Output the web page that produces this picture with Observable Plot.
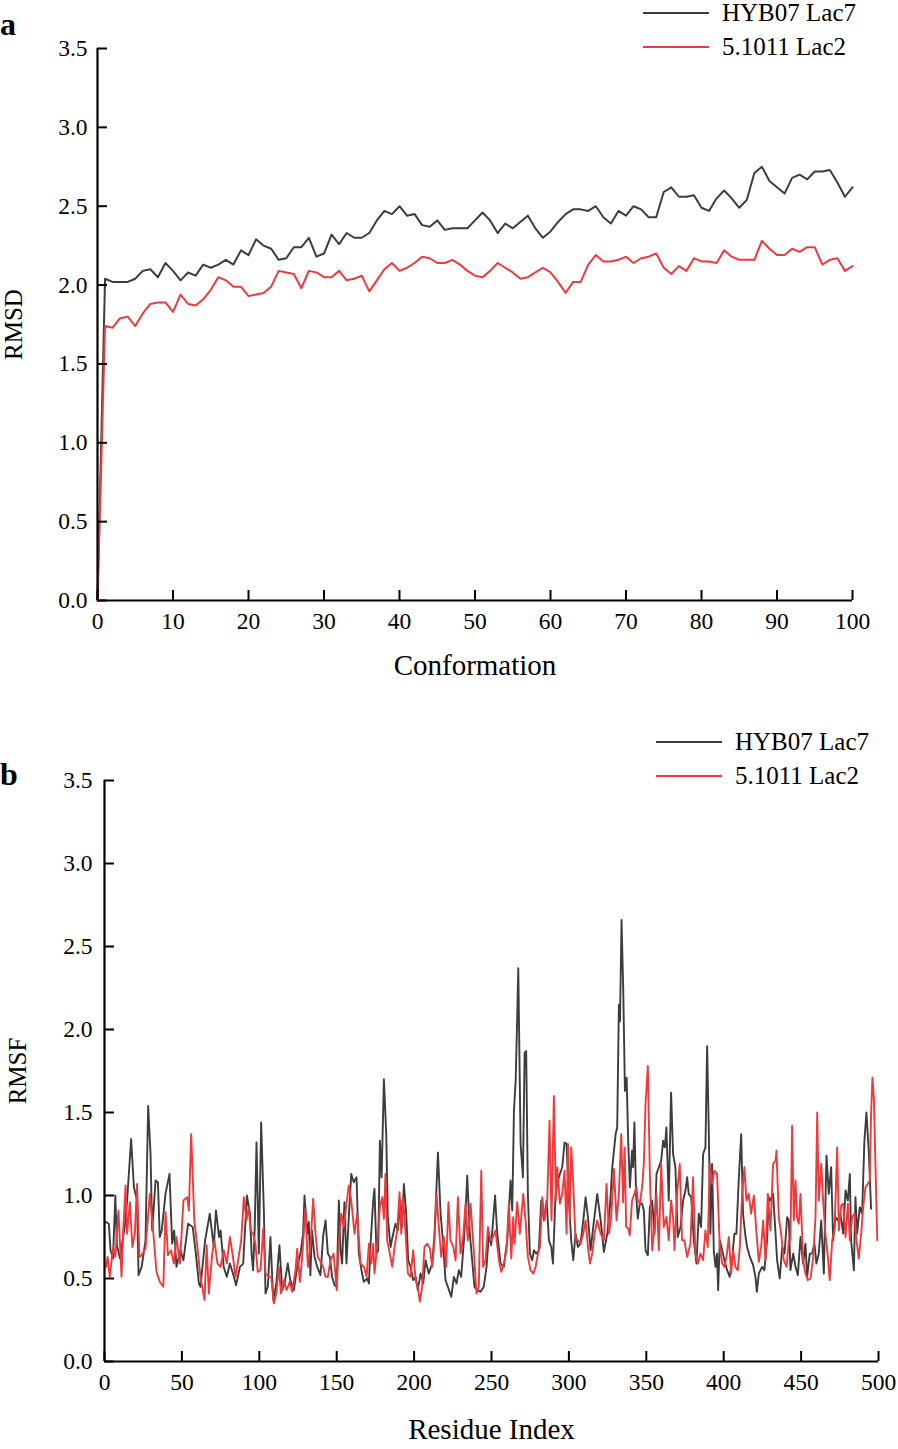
<!DOCTYPE html>
<html><head><meta charset="utf-8">
<script src="https://cdn.jsdelivr.net/npm/d3@7"></script>
<script src="https://cdn.jsdelivr.net/npm/@observablehq/plot@0.6"></script>
<style>
body{margin:0;background:#fff;}
#wrap{position:relative;width:898px;height:1449px;font-family:"Liberation Serif","Times New Roman",serif;overflow:hidden;}
.panel{position:absolute;left:0;}
.letter{position:absolute;font-weight:bold;font-size:32px;line-height:1;color:#000;}
.legend{position:absolute;font-size:25px;color:#000;}
.legend .row{display:flex;align-items:center;height:34px;white-space:nowrap;}
.legend .sw{width:66px;height:2px;margin-right:13px;}
</style></head>
<body><div id="wrap"></div>
<script>
// ---------- Panel a: RMSD ----------
const conformation = [0,1,2,3,4,5,6,7,8,9,10,11,12,13,14,15,16,17,18,19,20,21,22,23,24,25,26,27,28,29,30,31,32,33,34,35,36,37,38,39,40,41,42,43,44,45,46,47,48,49,50,51,52,53,54,55,56,57,58,59,60,61,62,63,64,65,66,67,68,69,70,71,72,73,74,75,76,77,78,79,80,81,82,83,84,85,86,87,88,89,90,91,92,93,94,95,96,97,98,99,100];
const rmsdHYB = [0.00,2.04,2.02,2.02,2.02,2.04,2.09,2.10,2.05,2.14,2.09,2.03,2.08,2.06,2.13,2.11,2.13,2.16,2.13,2.22,2.19,2.29,2.25,2.23,2.16,2.17,2.24,2.24,2.30,2.18,2.20,2.32,2.26,2.33,2.30,2.30,2.33,2.41,2.47,2.45,2.50,2.44,2.45,2.38,2.37,2.41,2.35,2.36,2.36,2.36,2.41,2.46,2.41,2.33,2.39,2.36,2.40,2.44,2.36,2.30,2.34,2.40,2.45,2.48,2.48,2.47,2.50,2.43,2.39,2.47,2.44,2.50,2.48,2.43,2.43,2.59,2.62,2.56,2.56,2.57,2.49,2.47,2.55,2.60,2.55,2.49,2.54,2.71,2.75,2.66,2.62,2.58,2.68,2.70,2.67,2.72,2.72,2.73,2.65,2.56,2.62];
const rmsd5101 = [0.00,1.74,1.73,1.79,1.80,1.74,1.82,1.88,1.89,1.89,1.83,1.94,1.88,1.87,1.91,1.97,2.05,2.03,1.99,1.99,1.93,1.94,1.95,1.99,2.09,2.08,2.07,1.98,2.09,2.08,2.05,2.05,2.09,2.03,2.04,2.06,1.96,2.03,2.10,2.14,2.09,2.11,2.14,2.18,2.17,2.14,2.14,2.16,2.13,2.09,2.06,2.05,2.09,2.14,2.11,2.08,2.04,2.05,2.08,2.11,2.08,2.02,1.95,2.02,2.02,2.13,2.19,2.15,2.15,2.16,2.18,2.14,2.17,2.18,2.20,2.11,2.07,2.12,2.09,2.17,2.15,2.15,2.14,2.22,2.18,2.16,2.16,2.16,2.28,2.23,2.19,2.19,2.23,2.21,2.24,2.24,2.13,2.16,2.17,2.09,2.12];

// ---------- Panel b: RMSF ----------
const residueHYB = [1,2.8,3.9,5.5,7,8,10,12,13,14.6,17.2,19,21,22,24,26.5,28.2,29.7,30.8,33,34.5,35.7,37,39.4,42,43.7,45,46.5,49,51,54,57,59,61,62,65,68,70.6,72,74,75,77,79,81,83,85,87.5,89.6,92,94,95,96,97,98.2,99.7,101.2,103,104,105.5,107.2,109,111,113,114.8,116.3,118.4,120,122.3,124.5,126.6,128.3,129.2,131,132,133,134,135.7,137.4,139.5,141.3,142.8,144.3,145.6,147,148.6,150,151.4,152.5,153.5,155,156.3,157.8,159.4,161,162.8,164.3,166,167.5,169.7,170.8,171.9,173.6,174.4,175.7,176.8,177.9,179,180.5,182,183,184.8,186.5,188,189.5,191.2,192.3,193.4,194.9,196.2,197.7,199.4,201,202.4,204.2,205.9,207.4,209.5,211.7,213.2,215.4,217.1,218.6,220.3,221.8,224,225.7,227.4,228.9,230.4,232.2,233.2,234.3,236,237.5,239,240.8,243,245,246.8,248.3,249.8,252.3,253.7,255.9,258,259,260.2,262.3,263.4,264.5,265.6,266.6,267.3,268.8,270.3,271.4,272.4,273.5,274.8,276.3,277.4,278.9,280.6,282.1,283.9,285.6,287.1,288.6,289.7,291.4,293.5,295.7,297.2,298.5,300,301.5,302.8,304.3,305.8,307.5,309.3,310.8,312.3,314,315.7,318.3,320.5,322.6,324.8,326.5,328,330.2,331.2,332.3,333,334,335.1,336.2,337.3,338.3,339.4,340.8,341.5,342.3,343.4,344.5,345.8,347.3,348.4,349.5,351,352.3,353.8,355.3,356.6,358.1,359.6,360.9,362,363,364.5,366,367.3,368.8,370.3,372.1,373.8,375.3,376.4,377.4,379,380.7,382.4,383.9,385.4,386.7,388.2,389.3,390.4,391.4,392.5,393.6,394.7,395.7,396.4,397.5,399,400.5,402.2,403.9,405.4,406.9,408.2,409.7,411.3,412.5,414.1,415.1,416.9,419,420.5,421.4,422.7,424.8,426.3,428,429.1,430.2,431.9,433.5,434.5,436.2,437.8,439.3,441,442.1,443.1,444.9,446.4,447.9,449.6,451.3,452.8,453.9,455.6,457.1,458.6,459.9,461.4,463,464.7,466.4,467.9,469.4,470.7,472.2,473.7,475.4,477.2,478.7,480.2,481.5,482.3,484.1,485.1,486.2,487.9,489.4,490.9,492.2,493.7,495.2];
const rmsfHYB = [0.84,0.83,0.67,0.62,1.00,0.70,0.62,0.75,0.80,0.97,1.34,1.05,0.97,0.52,0.57,0.73,1.54,1.26,0.79,1.09,1.08,0.75,0.79,1.01,1.13,0.71,0.79,0.57,0.67,0.61,0.83,0.81,0.65,0.47,0.45,0.73,0.89,0.69,0.91,0.75,0.79,0.57,0.51,0.59,0.53,0.46,0.57,0.59,1.00,0.89,0.65,0.55,0.79,1.32,0.65,1.44,0.89,0.41,0.45,0.75,0.37,0.47,0.70,0.43,0.47,0.59,0.49,0.43,0.57,0.65,0.77,1.00,0.77,0.84,0.52,0.79,0.63,0.57,0.52,0.76,0.85,0.65,0.63,0.51,0.46,0.45,0.97,0.67,0.59,0.96,0.59,0.87,1.13,1.08,1.11,0.65,0.55,0.48,0.50,0.47,0.71,0.97,1.04,0.65,0.67,1.33,1.11,1.70,1.37,0.87,0.69,0.77,0.83,0.79,0.97,0.81,1.07,0.89,0.61,0.57,0.49,0.51,0.43,0.53,0.47,0.61,0.53,0.59,0.77,1.26,0.89,0.73,0.49,0.45,0.39,0.51,0.47,0.55,0.51,0.73,0.89,1.12,0.77,0.61,0.45,0.43,0.42,0.45,0.57,0.77,0.70,1.00,0.77,0.59,0.57,0.65,0.73,1.09,0.91,1.51,1.69,2.07,2.37,1.31,1.11,1.86,1.87,1.01,0.65,0.61,0.67,0.65,0.67,0.97,0.85,0.97,0.73,0.69,0.59,1.01,1.11,1.17,1.32,1.31,0.97,0.73,0.61,0.77,0.69,0.71,0.85,0.99,0.87,0.67,0.81,1.01,0.85,0.66,0.77,0.93,1.17,1.37,1.41,2.15,2.05,2.66,2.24,1.63,1.71,1.33,1.05,1.27,1.17,1.44,1.01,0.86,0.95,0.95,0.91,0.67,0.64,0.93,0.97,0.77,1.13,1.17,1.21,1.33,1.29,1.41,0.97,1.62,1.25,1.17,0.75,0.81,0.97,1.03,1.11,1.01,0.99,0.73,0.59,0.89,0.81,1.25,1.29,1.90,1.37,0.77,1.19,0.67,0.57,0.65,0.43,0.73,0.67,0.61,0.55,0.51,0.61,0.77,0.77,1.09,1.37,0.89,0.75,0.69,0.63,0.58,0.51,0.42,0.53,0.57,0.55,0.73,0.99,0.97,1.01,0.77,0.61,0.50,0.69,0.65,0.87,0.85,0.55,0.65,0.57,0.52,0.75,0.59,0.71,0.51,0.65,0.65,0.71,0.59,0.65,0.85,0.53,1.24,1.01,1.17,0.73,0.87,0.85,0.89,0.77,1.03,0.97,1.13,0.73,0.55,0.99,0.77,0.93,0.89,1.33,1.50,1.27,0.92];
const residue5101 = [1,2,3.4,5.6,7,9,11,12,13.6,14.6,16.4,18,19.6,21,22.6,24,26.5,29.3,31.4,33.6,35.7,38,39.4,41,43,44.8,46.5,48.7,51,53.4,54.5,56,58,60,62,64.6,66,67.4,69.6,71,73,75,77,79,81,83,84.6,86,88.3,90,91.7,93.2,94.3,96,97.5,99,100.8,102.5,104,106.2,107.7,109.4,111,112.6,114,115.9,117.6,119.7,121.2,123.4,124.5,126.2,127.7,129.8,131.4,133,134.8,136.3,137.8,139,141.3,142.8,144.3,146,148,150,151.4,153,154.6,156.3,157.8,159.4,161.5,163.2,165.4,167.6,169.3,170.8,172.3,173.6,174.4,176.2,177.9,179.4,180.5,181.5,182.6,184.3,185.9,187.4,189.1,190.6,191.7,193,194.5,196,197.7,199.4,201,202.4,203.7,205.2,206.7,208.5,210.2,211.7,213.2,214.5,216,217.5,219.2,220.7,222.2,223.5,225.3,226.8,228.3,230,231.7,233.2,234.7,236.5,237.8,239,240.3,241.8,243.4,244.6,246.2,247.7,249.4,251.1,252.6,254.8,256.3,258,259.7,261.2,262.8,264,264.9,266.6,268.3,270.5,272,273.5,275.2,277,278.5,280,281.3,282.8,284.3,286,287.5,288.8,290.3,291.6,292.5,294.2,295.7,297.2,298.5,299.4,300.6,301.5,302.8,304.3,305.8,307.5,309.3,310.8,312.3,313.6,315.1,316.6,318.3,320.5,322.6,324.3,325.9,327.3,329.1,330.8,332.3,333.8,335,336,337,338.5,339.3,340.8,342.3,343.6,344.5,345.8,347.3,348.4,349.5,351,352.3,353.8,355.3,356.6,358.1,359.6,361.3,363,364.5,366,367.3,368.2,369.9,371.6,373.1,374.6,376.4,378.5,380.2,381.7,383.3,385,386.7,388.2,389.7,391,392.5,394,395.7,397.5,399,400.5,401.8,403.3,404.8,406.1,407.6,409.1,410.4,411.9,413.4,414.7,416.2,417.7,419.5,421.2,422.7,424.2,425.5,427,428.5,430.2,431.9,433.5,434.1,435.6,437.1,438.8,440.6,442.1,443.1,444.2,445.3,446.4,447.4,448.5,449.6,451.3,452.8,454.3,456.1,457.8,459.3,460.4,461.4,463,464.2,465.7,467.3,468.5,470.1,471.6,473.3,474.4,475.9,477.2,478.7,480.2,481.5,483,484.5,485.8,487.3,488.8,490.1,491.6,493.1,494.4,495.2,496.1,497,499.2];
const rmsf5101 = [0.57,0.63,0.51,0.69,0.63,0.91,0.51,0.77,1.06,0.77,0.96,0.69,0.77,1.07,0.63,0.64,0.68,1.01,0.79,0.54,0.48,0.45,0.90,0.64,0.67,0.59,0.75,0.59,0.97,0.99,0.91,1.37,0.85,0.69,0.51,0.37,0.70,0.41,0.65,0.73,0.59,0.57,0.67,0.59,0.75,0.63,0.51,0.59,0.73,0.99,0.85,0.93,0.79,0.77,0.71,0.54,0.55,0.80,0.53,0.51,0.51,0.35,0.41,0.57,0.41,0.49,0.43,0.48,0.42,0.55,0.68,0.48,0.63,0.92,0.57,0.69,0.98,0.77,0.63,0.61,0.57,0.51,0.51,0.61,0.65,0.43,0.71,0.89,0.81,0.95,1.06,0.97,0.77,0.89,0.59,0.57,0.51,0.71,0.59,0.71,0.53,0.71,0.93,0.99,0.86,1.13,0.73,0.65,0.57,0.69,0.79,1.02,0.77,0.98,0.77,0.53,0.51,0.67,0.49,0.45,0.36,0.45,0.69,0.71,0.68,0.57,0.73,1.01,0.81,0.63,0.75,0.57,0.96,0.73,0.69,0.61,0.99,0.65,0.75,0.95,0.73,0.95,0.77,0.61,0.41,0.45,1.15,0.57,0.61,0.81,0.73,0.75,0.79,0.61,0.54,0.59,0.67,0.95,0.62,0.87,0.71,0.96,0.77,1.01,0.85,0.63,0.55,0.53,0.57,0.65,0.69,0.99,0.85,0.97,1.45,0.85,1.60,0.97,1.17,0.95,1.01,1.15,0.77,1.31,0.85,1.29,1.07,0.73,0.73,0.71,0.77,0.85,0.69,0.59,0.65,0.77,0.85,0.77,0.73,1.07,0.77,0.87,1.16,0.85,1.01,1.37,0.96,1.29,0.81,0.80,0.76,0.97,1.01,1.05,0.97,0.95,1.05,1.19,1.55,1.78,1.13,0.67,0.81,1.01,0.67,1.19,0.81,0.87,0.73,0.97,0.87,0.67,1.01,1.19,0.73,0.73,0.63,0.71,1.11,0.65,0.59,0.65,0.61,0.79,0.69,1.19,1.07,1.15,1.13,0.69,0.59,0.57,0.63,0.75,0.53,0.67,0.57,0.55,0.69,1.01,1.17,0.97,1.01,0.89,1.00,0.77,0.60,0.69,0.85,0.61,1.01,0.79,1.19,1.21,1.27,0.87,0.77,0.61,0.57,0.73,0.73,1.42,0.85,1.09,0.87,0.83,1.01,0.61,0.53,0.49,0.50,0.63,0.87,1.50,0.97,1.19,0.97,0.77,0.63,0.49,0.73,0.79,1.29,0.79,0.94,0.95,0.75,0.95,0.73,0.87,0.89,0.73,0.62,0.77,0.93,1.05,1.07,1.09,1.49,1.71,1.59,0.73];

// ---------- axis ticks / labels ----------
const yTicks = [0, 0.5, 1, 1.5, 2, 2.5, 3, 3.5];
const xTicksA = [0,10,20,30,40,50,60,70,80,90,100];
const xTicksB = [0,50,100,150,200,250,300,350,400,450,500];
const seriesNames = ["HYB07 Lac7", "5.1011 Lac2"];
const seriesColors = ["#3d3d3d", "#ee3a3c"];

const tableA = conformation.map((c, i) => ({c, hyb: rmsdHYB[i], lac: rmsd5101[i]}));
const tableB1 = residueHYB.map((r, i) => ({r, v: rmsfHYB[i]}));
const tableB2 = residue5101.map((r, i) => ({r, v: rmsf5101[i]}));

const FONT = '"Liberation Serif","Times New Roman",serif';

function makePanel({height, mt, mb, ml, mr, xDomain, xTicks, xLabel, yLabel, lines, xLabelOffset, yLabelOffset, yPad}) {
  const innerH = height - mt - mb;
  const innerW = 898 - ml - mr;
  const svg = Plot.plot({
    width: 898, height,
    marginTop: mt, marginBottom: mb, marginLeft: ml, marginRight: mr,
    x: {domain: xDomain},
    y: {domain: [0, 3.5]},
    style: {fontFamily: FONT, fontSize: "23px", color: "#000", background: "transparent", overflow: "visible"},
    marks: [
      ...lines,
      Plot.ruleY([0], {stroke: "#000", strokeWidth: 2.2}),
      Plot.ruleX([xDomain[0]], {stroke: "#000", strokeWidth: 2.2}),
      Plot.tickX(xTicks, {x: d => d, stroke: "#000", strokeWidth: 2, insetTop: innerH - 10}),
      Plot.tickY(yTicks, {y: d => d, stroke: "#000", strokeWidth: 2, insetRight: innerW - 10}),
      Plot.axisX(xTicks, {tickSize: 0, tickPadding: 12, fontSize: 23.5, tickFormat: d => String(d),
        label: xLabel, labelAnchor: "center", labelOffset: xLabelOffset, labelArrow: "none"}),
      Plot.axisY(yTicks, {tickSize: 0, tickPadding: yPad, fontSize: 23.5, tickFormat: d3.format(".1f"),
        label: yLabel, labelAnchor: "center", labelOffset: yLabelOffset, labelArrow: "none"})
    ]
  });
  d3.select(svg).selectAll('[aria-label="x-axis label"]').attr("font-size", 29);
  d3.select(svg).selectAll('[aria-label="x-axis label"] text').attr("font-size", 29);
  d3.select(svg).selectAll('[aria-label="y-axis label"]').attr("font-size", 25);
  d3.select(svg).selectAll('[aria-label="y-axis label"] text').attr("font-size", 25);
  return svg;
}

const wrap = document.getElementById("wrap");

function addLegend(top, left) {
  const lg = document.createElement("div");
  lg.className = "legend";
  lg.style.top = top + "px";
  lg.style.left = left + "px";
  seriesNames.forEach((n, i) => {
    const row = document.createElement("div");
    row.className = "row";
    const sw = document.createElement("span");
    sw.className = "sw";
    sw.style.background = seriesColors[i];
    const tx = document.createElement("span");
    tx.textContent = n;
    row.appendChild(sw); row.appendChild(tx);
    lg.appendChild(row);
  });
  wrap.appendChild(lg);
}

// Panel a
const svgA = makePanel({
  height: 700, mt: 48, mb: 100, ml: 97, mr: 46,
  xDomain: [0, 100], xTicks: xTicksA, xLabel: "Conformation", yLabel: "RMSD",
  xLabelOffset: 74, yLabelOffset: 93, yPad: 10,
  lines: [
    Plot.line(tableA, {x: "c", y: "hyb", stroke: seriesColors[0], strokeWidth: 2}),
    Plot.line(tableA, {x: "c", y: "lac", stroke: seriesColors[1], strokeWidth: 2})
  ]
});
const divA = document.createElement("div");
divA.className = "panel"; divA.style.top = "0px";
divA.appendChild(svgA); wrap.appendChild(divA);

// Panel b
const svgB = makePanel({
  height: 749, mt: 80, mb: 88, ml: 104, mr: 20,
  xDomain: [0, 500], xTicks: xTicksB, xLabel: "Residue Index", yLabel: "RMSF",
  xLabelOffset: 77, yLabelOffset: 96, yPad: 12,
  lines: [
    Plot.line(tableB1, {x: "r", y: "v", stroke: seriesColors[0], strokeWidth: 1.9}),
    Plot.line(tableB2, {x: "r", y: "v", stroke: seriesColors[1], strokeWidth: 1.9})
  ]
});
const divB = document.createElement("div");
divB.className = "panel"; divB.style.top = "700px";
divB.appendChild(svgB); wrap.appendChild(divB);

// Panel letters
[["a", 0, 8], ["b", 0, 758]].forEach(([t, l, tp]) => {
  const d = document.createElement("div");
  d.className = "letter"; d.textContent = t;
  d.style.left = l + "px"; d.style.top = tp + "px";
  wrap.appendChild(d);
});

addLegend(-4, 643);
addLegend(725, 656);
</script>
</body></html>
